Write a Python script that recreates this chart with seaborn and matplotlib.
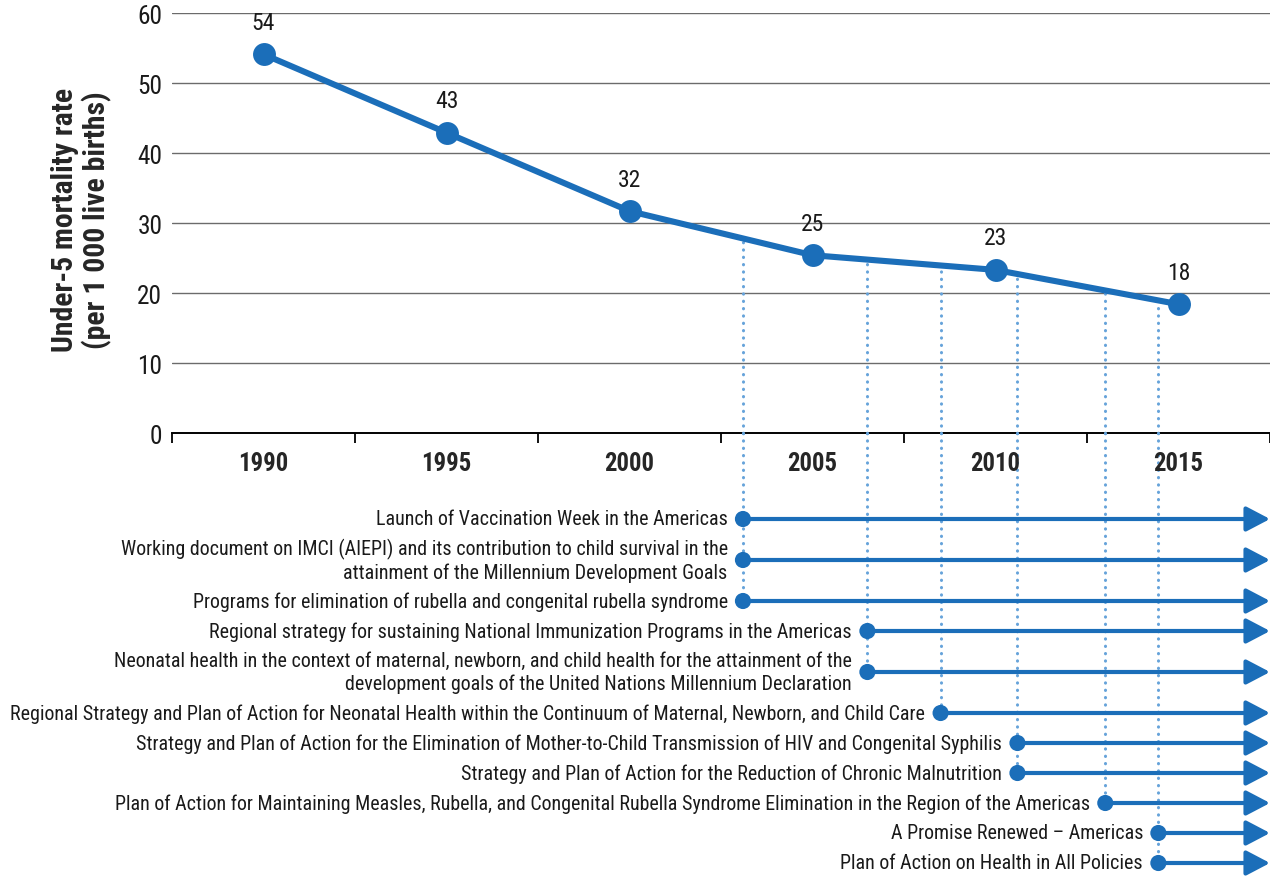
import numpy as np
import pandas as pd
import matplotlib
matplotlib.use("Agg")
import matplotlib.pyplot as plt
from matplotlib import font_manager
from matplotlib.textpath import TextPath
from matplotlib.font_manager import FontProperties
import seaborn as sns

# ---------------- data ----------------
years = [1990, 1995, 2000, 2005, 2010, 2015]
mortality = [54.1, 42.9, 31.7, 25.4, 23.3, 18.4]
y_ticks = [0, 10, 20, 30, 40, 50, 60]

event_labels = [
    "Launch of Vaccination Week in the Americas",
    "Working document on IMCI (AIEPI) and its contribution to child survival in the\nattainment of the Millennium Development Goals",
    "Programs for elimination of rubella and congenital rubella syndrome",
    "Regional strategy for sustaining National Immunization Programs in the Americas",
    "Neonatal health in the context of maternal, newborn, and child health for the attainment of the\ndevelopment goals of the United Nations Millennium Declaration",
    "Regional Strategy and Plan of Action for Neonatal Health within the Continuum of Maternal, Newborn, and Child Care",
    "Strategy and Plan of Action for the Elimination of Mother-to-Child Transmission of HIV and Congenital Syphilis",
    "Strategy and Plan of Action for the Reduction of Chronic Malnutrition",
    "Plan of Action for Maintaining Measles, Rubella, and Congenital Rubella Syndrome Elimination in the Region of the Americas",
    "A Promise Renewed \u2013 Americas",
    "Plan of Action on Health in All Policies",
]
event_years = [2003.1, 2003.1, 2003.1, 2006.5, 2006.5, 2008.5,
               2010.6, 2010.6, 2013.0, 2014.45, 2014.45]

BLUE = "#1b6eb9"
DOT = "#66a3da"

# ---------------- style ----------------
sns.set_theme(style="white")
names = {f.name for f in font_manager.fontManager.ttflist}
fam = "DejaVu Sans"
for cand in ["Liberation Sans Narrow", "DejaVu Sans Condensed", "Roboto Condensed",
             "Open Sans Condensed", "Noto Sans Condensed", "Roboto", "Open Sans"]:
    if cand in names:
        fam = cand
        break
plt.rcParams['font.family'] = [fam, 'DejaVu Sans']
plt.rcParams['text.color'] = '#1a1a1a'


def fit_size(text, target_px, weight='normal'):
    """font size (pt) such that text is target_px wide at 100 dpi"""
    fp = FontProperties(family=fam, weight=weight, size=10)
    w = TextPath((0, 0), text, prop=fp).get_extents().width  # in pt at size 10
    return 10 * (target_px * 0.72) / w


ev_fs = fit_size(event_labels[5], 915)
tick_fs = fit_size("60", 22)
val_fs = fit_size("54", 21)
year_fs = fit_size("1990", 47, 'bold')
ylab_fs = fit_size("Under-5 mortality rate", 262, 'bold')

W, H = 1270, 878
fig = plt.figure(figsize=(W / 100, H / 100), dpi=100)
x0 = 172 / W
ax = fig.add_axes([x0, 1 - 434 / H, 1 - x0, (434 - 14) / H])
ax2 = fig.add_axes([x0, 0, 1 - x0, (H - 434) / H], zorder=0)
ax.set_zorder(1)
ax.patch.set_visible(False)

xmin, xmax = 1987.5, 2017.5

# ---------------- main line chart ----------------
df = pd.DataFrame({"year": years, "rate": mortality})
sns.lineplot(data=df, x="year", y="rate", ax=ax, color=BLUE, linewidth=4.4,
             marker='o', markersize=16.5, markeredgewidth=0, zorder=5, clip_on=False)
for x, v in zip(years, mortality):
    ax.annotate(f"{v:.0f}", (x, v), xytext=(0, 23), textcoords='offset points',
                ha='center', va='center', fontsize=val_fs, color='#1a1a1a')

ax.set_xlim(xmin, xmax)
ax.set_ylim(0, 60)
ax.set_yticks(y_ticks)
ax.set_xticks(years)
ax.set_xticks(np.arange(xmin, xmax + 0.1, 5), minor=True)
ax.tick_params(axis='x', which='major', length=0, pad=13, labelsize=year_fs)
ax.tick_params(axis='x', which='minor', length=7, width=1.3, direction='out',
               color='black', bottom=True)
ax.tick_params(axis='y', length=0, pad=7, labelsize=tick_fs, labelcolor='#1a1a1a')
for lbl in ax.get_xticklabels():
    lbl.set_fontweight('bold')
ax.set_xlabel("")
ax.grid(axis='y', color='#6b6b6b', lw=1.0)
ax.grid(axis='x', visible=False)
for s in ['left', 'right', 'top']:
    ax.spines[s].set_visible(False)
ax.spines['bottom'].set_color('black')
ax.spines['bottom'].set_linewidth(1.4)
ax.set_ylabel("Under-5 mortality rate\n(per 1 000 live births)", fontweight='bold',
              fontsize=ylab_fs, linespacing=1.1)
ax.yaxis.set_label_coords(-0.055, 0.51)

# ---------------- events ----------------
n_lines = [lab.count("\n") + 1 for lab in event_labels]
row_y = [520.0]
for i in range(1, len(event_labels)):
    row_y.append(row_y[-1] + 30 + 11 * ((n_lines[i - 1] - 1) + (n_lines[i] - 1)))

ax2.set_xlim(xmin, xmax)
ax2.set_ylim(H, 434)
ax2.axis('off')

dot_style = dict(color=DOT, lw=2.2, linestyle=(0, (0.1, 2.3)),
                 dash_capstyle='round', solid_capstyle='round')
for ex in sorted(set(event_years)):
    top = np.interp(ex, years, mortality)
    ax.plot([ex, ex], [0, top], zorder=3, clip_on=False, **dot_style)
    low = max(y for y, e in zip(row_y, event_years) if e == ex)
    ax2.plot([ex, ex], [434, low], zorder=2, clip_on=False, **dot_style)

for ex, y, lab in zip(event_years, row_y, event_labels):
    ax2.annotate("", xy=(xmax, y), xytext=(ex, y),
                 arrowprops=dict(arrowstyle='-|>,head_length=0.8,head_width=0.42',
                                 mutation_scale=18, lw=3.0, color=BLUE,
                                 shrinkA=0, shrinkB=0), zorder=4)
    ax2.annotate(lab, (ex, y), xytext=(-11, 0), textcoords='offset points',
                 ha='right', va='center', fontsize=ev_fs, linespacing=1.2,
                 color='#1a1a1a', annotation_clip=False)

ev = pd.DataFrame({"x": event_years, "y": row_y})
sns.scatterplot(data=ev, x="x", y="y", ax=ax2, s=135, color=BLUE,
                edgecolor='none', zorder=6, clip_on=False, legend=False)
ax2.set_xlabel("")
ax2.set_ylabel("")

fig.savefig("out.png", dpi=100)
